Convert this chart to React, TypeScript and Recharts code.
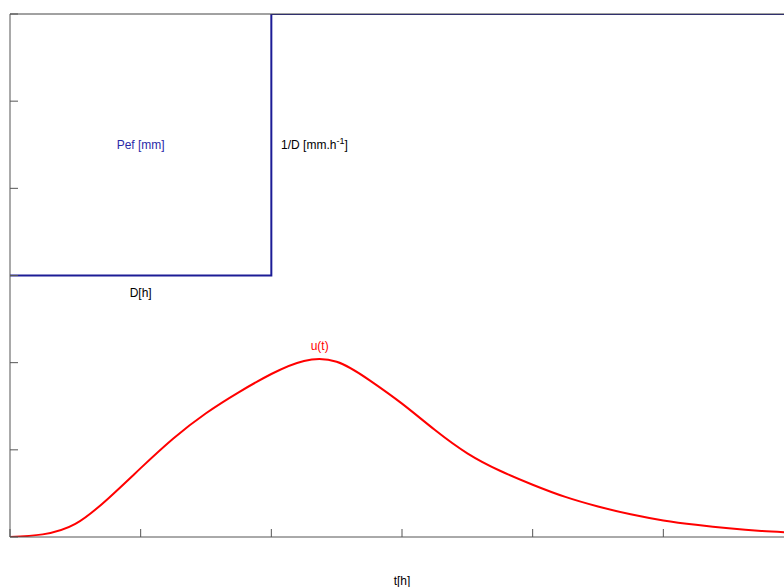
import React from 'react';
import { LineChart, Line, XAxis, YAxis, ReferenceDot } from 'recharts';

// time axis [h] and unit hydrograph ordinates
const tValues = [0, 0.25, 0.5, 0.75, 1, 1.25, 1.5, 1.75, 2, 2.25, 2.5, 2.75, 3, 3.25, 3.5, 3.75, 4, 4.25, 4.5, 4.75, 5, 5.25, 5.5, 5.75, 6];
const uValues = [0, 0.03, 0.15, 0.44, 0.79, 1.13, 1.42, 1.66, 1.87, 2.02, 2.01, 1.8, 1.53, 1.23, 0.96, 0.76, 0.6, 0.46, 0.35, 0.26, 0.19, 0.14, 0.1, 0.07, 0.05];

// effective rain block (Pef) and 1/D step
const blockT = [0, 2, 2, 6];
const blockV = [3, 3, 6, 6];

const xTicks = [0, 1, 2, 3, 4, 5, 6];
const yTicks = [0, 1, 2, 3, 4, 5, 6];

const FONT = '"Liberation Sans", Arial, sans-serif';

const curveData = tValues.map((t, i) => ({ t, u: uValues[i] }));
const blockData = blockT.map((t, i) => ({ t, v: blockV[i] }));

const TextLabel = ({ viewBox, text, sup, fill }: any) => {
  const cx = viewBox.x + (viewBox.width || 0) / 2;
  const cy = viewBox.y + (viewBox.height || 0) / 2;
  return (
    <text x={cx} y={cy} dy={4} textAnchor="middle" fill={fill} fontSize={12} fontFamily={FONT}>
      {text}
      {sup && (
        <>
          <tspan dy={-5} fontSize={9}>{sup}</tspan>
          <tspan dy={5}>]</tspan>
        </>
      )}
    </text>
  );
};

export default function App() {
  return (
    <div style={{ position: 'fixed', left: 0, top: 0, width: 784, height: 587, overflow: 'hidden', background: '#fff' }}>
      <LineChart width={800} height={587} margin={{ top: 13, right: 6, left: 9, bottom: 49 }}>
        <XAxis
          xAxisId={0}
          dataKey="t"
          type="number"
          domain={[0, 6]}
          ticks={xTicks}
          height={1}
          tickSize={-8}
          tickFormatter={() => ''}
          stroke="#555"
          allowDataOverflow
        />
        <XAxis
          xAxisId="top"
          orientation="top"
          dataKey="t"
          type="number"
          domain={[0, 6]}
          ticks={xTicks}
          height={1}
          tickSize={-8}
          tickFormatter={() => ''}
          stroke="#444"
        />
        <YAxis
          yAxisId={0}
          type="number"
          domain={[0, 6]}
          ticks={yTicks}
          width={1}
          tickSize={-8}
          tickFormatter={() => ''}
          stroke="#555"
          allowDataOverflow
        />
        <Line
          data={blockData}
          dataKey="v"
          type="linear"
          stroke="#1c1c96"
          strokeWidth={2}
          dot={false}
          isAnimationActive={false}
        />
        <Line
          data={curveData}
          dataKey="u"
          type="natural"
          stroke="#ff0000"
          strokeWidth={2}
          dot={false}
          isAnimationActive={false}
        />
        <ReferenceDot x={1} y={4.5} r={0} label={<TextLabel text="Pef [mm]" fill="#2a2aa8" />} />
        <ReferenceDot x={2.33} y={4.5} r={0} label={<TextLabel text="1/D [mm.h" sup="-1" fill="#000" />} />
        <ReferenceDot x={1} y={2.8} r={0} label={<TextLabel text="D[h]" fill="#000" />} />
        <ReferenceDot x={2.37} y={2.19} r={0} label={<TextLabel text="u(t)" fill="#ff0000" />} />
        <ReferenceDot x={3} y={-0.5} r={0} ifOverflow="visible" label={<TextLabel text="t[h]" fill="#000" />} />
      </LineChart>
    </div>
  );
}
